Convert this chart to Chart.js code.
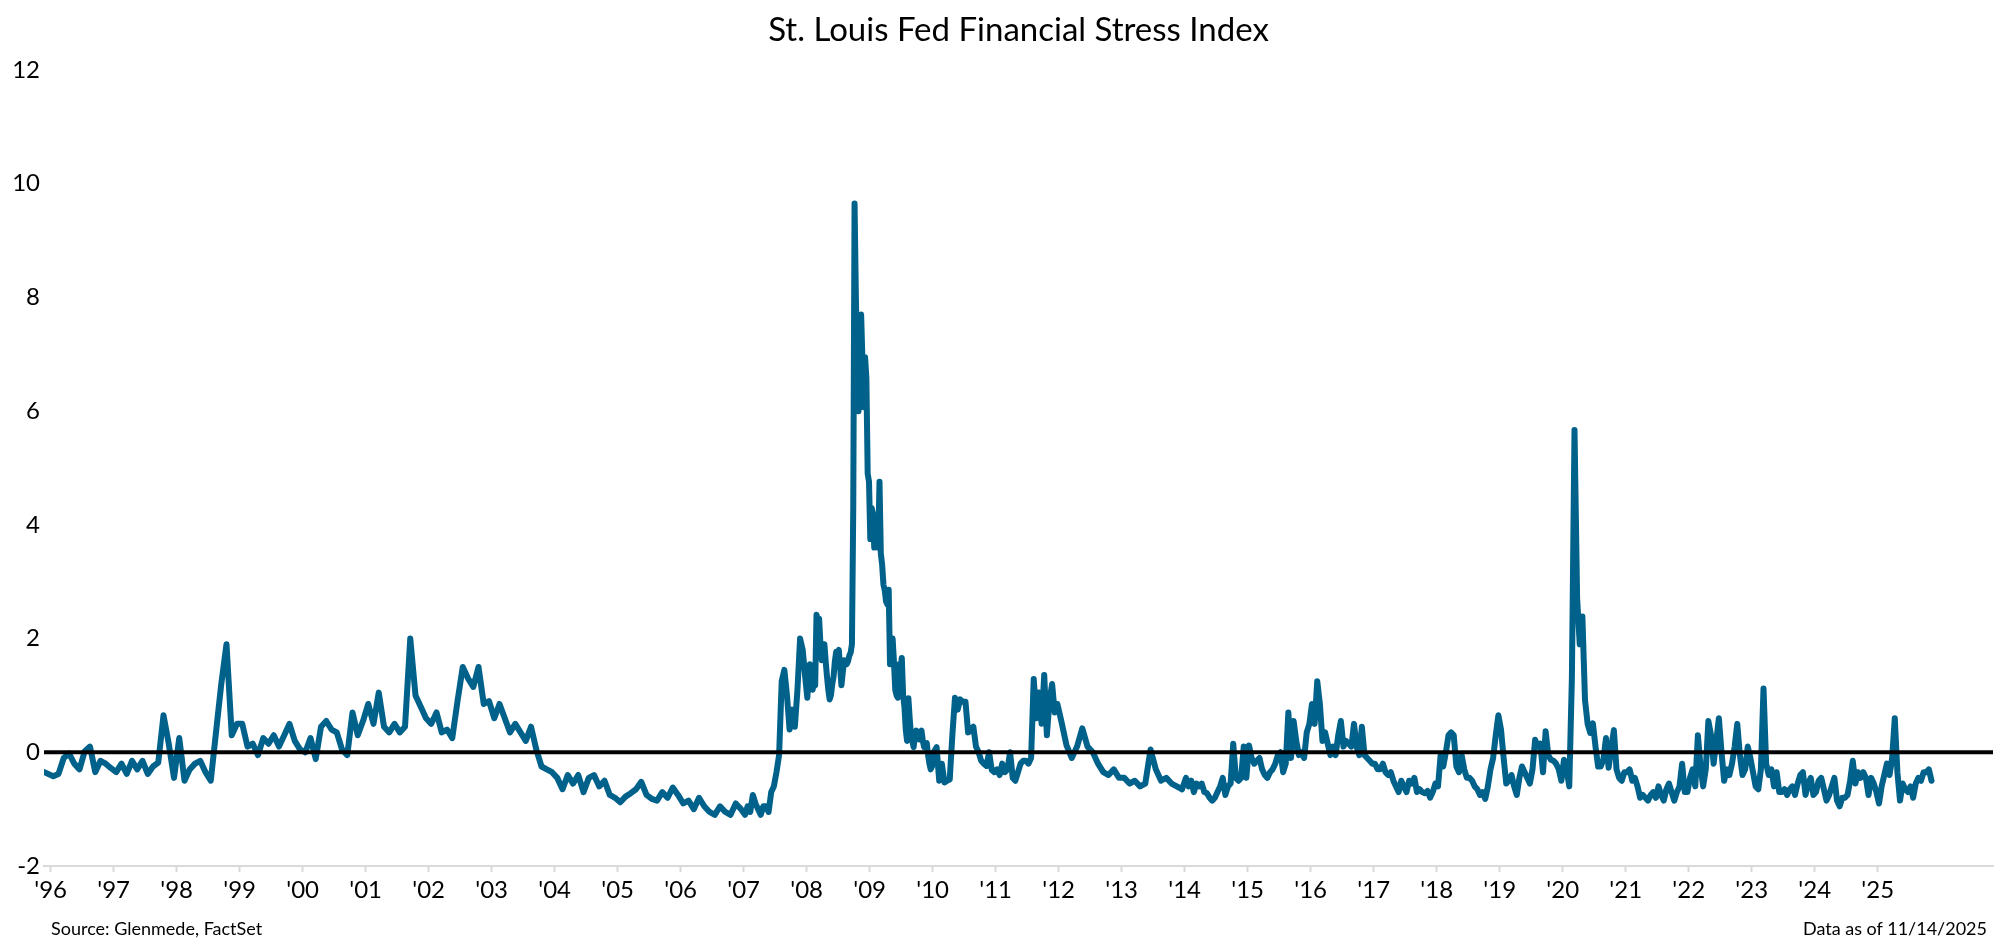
<!DOCTYPE html>
<html>
<head>
<meta charset="utf-8">
<title>St. Louis Fed Financial Stress Index</title>
<script src="https://cdn.jsdelivr.net/npm/chart.js@4.4.1/dist/chart.umd.min.js"></script>
<style>
  html, body { margin: 0; padding: 0; background: #fff; }
  #wrap { position: relative; width: 2000px; height: 949px; }
  #chart { position: absolute; left: 0; top: 0; }
  .note { position: absolute; font-family: Lato, sans-serif; font-size: 18px; line-height: 20px; color: #000; white-space: nowrap; }
  #source { left: 51px; top: 918px; }
  #asof { right: 13px; top: 918px; }
</style>
</head>
<body>
<div id="wrap">
  <canvas id="chart" width="2000" height="949"></canvas>
  <div class="note" id="source">Source: Glenmede, FactSet</div>
  <div class="note" id="asof">Data as of 11/14/2025</div>
</div>
<script>
// tick labels along the bottom ('96 ... '25)
const yearTicks = [1996, 1997, 1998, 1999, 2000, 2001, 2002, 2003, 2004, 2005,
                   2006, 2007, 2008, 2009, 2010, 2011, 2012, 2013, 2014, 2015,
                   2016, 2017, 2018, 2019, 2020, 2021, 2022, 2023, 2024, 2025];

// readings per year (monthly, half-monthly or weekly-ish around the crises)
const stepsPerYear = [12, 12, 12, 12, 12, 12, 12, 12, 12, 12,
                      12, 24, 48, 48, 24, 24, 12, 12, 24, 24,
                      24, 24, 24, 24, 24, 24, 24, 24, 24, 24];

// first reading, end of Dec 1995
const seriesStart = 1995.9;
const startValue = -0.35;

// index values, one array per year
const fsi1996 = [-0.42, -0.38, -0.1, -0.02, -0.2, -0.3, 0.02, 0.1, -0.35, -0.15, -0.2, -0.28];
const fsi1997 = [-0.35, -0.2, -0.38, -0.15, -0.3, -0.15, -0.38, -0.25, -0.18, 0.65, 0.15, -0.45];
const fsi1998 = [0.25, -0.5, -0.3, -0.2, -0.15, -0.35, -0.5, 0.35, 1.2, 1.9, 0.3, 0.5];
const fsi1999 = [0.5, 0.1, 0.15, -0.05, 0.25, 0.15, 0.3, 0.1, 0.3, 0.5, 0.2, 0.05];
const fsi2000 = [0.0, 0.25, -0.12, 0.45, 0.55, 0.4, 0.35, 0.05, -0.05, 0.7, 0.3, 0.55];
const fsi2001 = [0.85, 0.5, 1.05, 0.45, 0.35, 0.5, 0.35, 0.45, 2.0, 1.0, 0.8, 0.6];
const fsi2002 = [0.5, 0.7, 0.35, 0.4, 0.25, 0.9, 1.5, 1.3, 1.15, 1.5, 0.85, 0.9];
const fsi2003 = [0.6, 0.85, 0.6, 0.35, 0.5, 0.35, 0.2, 0.45, 0.05, -0.25, -0.3, -0.35];
const fsi2004 = [-0.45, -0.65, -0.4, -0.55, -0.4, -0.7, -0.45, -0.4, -0.6, -0.5, -0.75, -0.8];
const fsi2005 = [-0.88, -0.78, -0.72, -0.65, -0.52, -0.75, -0.82, -0.85, -0.7, -0.8, -0.62, -0.75];
const fsi2006 = [-0.9, -0.85, -1.0, -0.8, -0.95, -1.05, -1.1, -0.95, -1.05, -1.1, -0.9, -1.0];
const fsi2007 = [-1.1, -0.95, -1.05, -0.75, -0.9, -1.0, -1.1, -0.95, -0.95, -1.05, -0.7, -0.6,
                 -0.35, -0.05, 1.25, 1.45, 1.0, 0.4, 0.75, 0.45, 1.1, 2.0, 1.8, 1.3];
const fsi2008 = [0.96, 1.3, 1.55, 1.3, 1.1, 1.2, 1.18, 2.42, 2.3, 2.35, 1.9, 1.62,
                 1.75, 1.9, 1.6, 1.33, 1.1, 0.93, 1.0, 1.2, 1.33, 1.6, 1.77, 1.75,
                 1.8, 1.5, 1.18, 1.4, 1.62, 1.6, 1.55, 1.6, 1.7, 1.75, 1.9, 4.3,
                 9.65, 8.0, 6.95, 6.0, 7.5, 7.7, 6.9, 6.07, 6.95, 6.58, 4.9, 4.76];
const fsi2009 = [3.75, 4.3, 4.2, 3.6, 4.0, 4.15, 3.6, 4.76, 3.5, 3.3, 2.95, 2.85,
                 2.65, 2.6, 2.86, 1.55, 1.8, 2.0, 1.6, 1.1, 1.0, 0.96, 1.55, 1.45,
                 1.66, 1.0, 0.8, 0.4, 0.2, 0.95, 0.6, 0.31, 0.2, 0.09, 0.3, 0.38,
                 0.25, 0.23, 0.35, 0.38, 0.2, 0.09, 0.15, 0.16, -0.05, -0.2, -0.3, -0.25];
const fsi2010 = [0.01, 0.09, -0.5, -0.2, -0.53, -0.5, -0.48, 0.3, 0.96, 0.75, 0.93, 0.89,
                 0.89, 0.35, 0.38, 0.45, 0.1, 0.0, -0.15, -0.2, -0.24, 0.0, -0.31, -0.35];
const fsi2011 = [-0.3, -0.4, -0.2, -0.35, -0.3, 0.0, -0.45, -0.5, -0.35, -0.2, -0.15, -0.15,
                 -0.2, -0.1, 1.29, 0.6, 1.05, 0.5, 1.36, 0.3, 0.9, 1.2, 0.7, 0.85];
const fsi2012 = [0.55, 0.12, -0.1, 0.1, 0.42, 0.1, 0.0, -0.2, -0.35, -0.4, -0.3, -0.45];
const fsi2013 = [-0.45, -0.55, -0.5, -0.6, -0.55, 0.05, -0.3, -0.5, -0.45, -0.55, -0.6, -0.65];
const fsi2014 = [-0.45, -0.6, -0.5, -0.7, -0.55, -0.6, -0.55, -0.7, -0.72, -0.8, -0.85, -0.8,
                 -0.7, -0.6, -0.45, -0.75, -0.6, -0.55, 0.15, -0.45, -0.5, -0.45, 0.1, -0.45];
const fsi2015 = [0.12, -0.1, -0.2, -0.15, -0.1, -0.3, -0.4, -0.45, -0.35, -0.3, -0.2, -0.05,
                 0.0, -0.35, -0.2, 0.7, -0.1, 0.55, 0.2, -0.05, 0.0, -0.1, 0.35, 0.5];
const fsi2016 = [0.85, 0.5, 1.25, 0.85, 0.2, 0.35, 0.15, -0.05, 0.1, -0.05, 0.3, 0.55,
                 0.1, 0.2, 0.15, 0.1, 0.5, 0.1, -0.05, 0.45, -0.05, -0.1, -0.15, -0.2];
const fsi2017 = [-0.2, -0.3, -0.3, -0.2, -0.35, -0.4, -0.35, -0.5, -0.6, -0.7, -0.5, -0.6,
                 -0.7, -0.5, -0.55, -0.45, -0.7, -0.65, -0.7, -0.72, -0.68, -0.8, -0.7, -0.55];
const fsi2018 = [-0.6, -0.05, -0.25, 0.0, 0.3, 0.35, 0.3, -0.25, -0.35, -0.05, -0.3, -0.45,
                 -0.45, -0.5, -0.6, -0.65, -0.75, -0.7, -0.82, -0.6, -0.3, -0.1, 0.3, 0.65];
const fsi2019 = [0.4, -0.1, -0.55, -0.5, -0.4, -0.6, -0.75, -0.45, -0.25, -0.35, -0.45, -0.55,
                 -0.3, 0.22, 0.1, 0.15, -0.35, 0.37, -0.05, -0.13, -0.15, -0.2, -0.3, -0.5];
const fsi2020 = [-0.13, -0.3, -0.6, 1.3, 5.67, 2.7, 1.9, 2.39, 0.92, 0.5, 0.34, 0.51,
                 0.1, -0.25, -0.25, -0.13, 0.25, -0.27, 0.08, 0.39, -0.3, -0.45, -0.5, -0.35];
const fsi2021 = [-0.35, -0.3, -0.5, -0.45, -0.6, -0.8, -0.75, -0.8, -0.85, -0.75, -0.7, -0.8,
                 -0.6, -0.75, -0.85, -0.65, -0.55, -0.7, -0.85, -0.7, -0.6, -0.2, -0.7, -0.7];
const fsi2022 = [-0.45, -0.3, -0.6, 0.3, -0.25, -0.6, -0.3, 0.55, 0.3, -0.2, 0.2, 0.6,
                 0.0, -0.5, -0.3, -0.4, -0.2, 0.1, 0.5, -0.05, -0.4, -0.3, 0.1, -0.1];
const fsi2023 = [-0.35, -0.6, -0.65, -0.3, 1.12, -0.2, -0.4, -0.3, -0.6, -0.35, -0.7, -0.7,
                 -0.65, -0.75, -0.65, -0.6, -0.75, -0.55, -0.4, -0.35, -0.75, -0.55, -0.45, -0.75];
const fsi2024 = [-0.7, -0.5, -0.45, -0.65, -0.85, -0.75, -0.6, -0.45, -0.85, -0.95, -0.8, -0.8,
                 -0.75, -0.5, -0.15, -0.55, -0.35, -0.45, -0.35, -0.45, -0.75, -0.45, -0.55, -0.7];
// 2025 runs to 11/14
const fsi2025 = [-0.9, -0.6, -0.4, -0.2, -0.4, -0.1, 0.6, -0.35, -0.85, -0.55, -0.65, -0.7,
                 -0.6, -0.8, -0.55, -0.45, -0.5, -0.35, -0.35, -0.3, -0.5];

const yearlyValues = [fsi1996, fsi1997, fsi1998, fsi1999, fsi2000, fsi2001, fsi2002, fsi2003,
                      fsi2004, fsi2005, fsi2006, fsi2007, fsi2008, fsi2009, fsi2010, fsi2011,
                      fsi2012, fsi2013, fsi2014, fsi2015, fsi2016, fsi2017, fsi2018, fsi2019,
                      fsi2020, fsi2021, fsi2022, fsi2023, fsi2024, fsi2025];

// y axis ticks
const valueTicks = [-2, 0, 2, 4, 6, 8, 10, 12];

const lineColour = '#00618a';
const tickFont = { family: 'Lato', size: 24 };

function buildPoints() {
    let points = [{ x: seriesStart, y: startValue }];
    yearTicks.forEach((year, i) => {
        let steps = stepsPerYear[i];
        yearlyValues[i].forEach((value, k) => {
            points.push({ x: year + (k + 0.5) / steps, y: value });
        });
    });
    return points;
}

// black line at zero, drawn over the series
const zeroLine = {
    id: 'zeroLine',
    afterDatasetsDraw(chart) {
        let ctx = chart.ctx;
        let area = chart.chartArea;
        let y = chart.scales.y.getPixelForValue(0);
        ctx.save();
        ctx.strokeStyle = '#000';
        ctx.lineWidth = 4;
        ctx.beginPath();
        ctx.moveTo(area.left, y);
        ctx.lineTo(area.right, y);
        ctx.stroke();
        ctx.restore();
    }
};

window.addEventListener('load', function () {
    let ctx = document.getElementById('chart').getContext('2d');
    new Chart(ctx, {
        type: 'line',
        data: {
            datasets: [{
                label: 'St. Louis Fed Financial Stress Index',
                data: buildPoints(),
                borderColor: lineColour,
                backgroundColor: lineColour,
                borderWidth: 6,
                borderJoinStyle: 'round',
                borderCapStyle: 'round',
                pointRadius: 0,
                tension: 0
            }]
        },
        options: {
            responsive: false,
            devicePixelRatio: 1,
            animation: false,
            layout: { padding: { left: 0, right: 7, top: 0, bottom: 40 } },
            plugins: {
                legend: { display: false },
                tooltip: { enabled: false },
                title: {
                    display: true,
                    text: 'St. Louis Fed Financial Stress Index',
                    fullSize: false,
                    color: '#000',
                    font: { family: 'Lato', size: 33, weight: 'normal' },
                    padding: { top: 11, bottom: 19.4 }
                }
            },
            scales: {
                x: {
                    type: 'linear',
                    min: 1995.895,
                    max: 2026.83,
                    afterBuildTicks: (scale) => { scale.ticks = yearTicks.map(v => ({ value: v })); },
                    afterFit: (scale) => { scale.height = 43; },
                    grid: { drawOnChartArea: false, tickColor: '#d9d9d9', tickLength: 6, tickWidth: 2 },
                    border: { color: '#d9d9d9', width: 2 },
                    ticks: {
                        autoSkip: false,
                        maxRotation: 0,
                        padding: 4,
                        color: '#000',
                        font: tickFont,
                        callback: (v) => "'" + String(v).slice(2)
                    }
                },
                y: {
                    min: -2,
                    max: 12,
                    afterBuildTicks: (scale) => { scale.ticks = valueTicks.map(v => ({ value: v })); },
                    afterFit: (scale) => { scale.width = 44; },
                    grid: { display: false, drawTicks: false },
                    border: { display: false },
                    ticks: {
                        padding: 4,
                        color: '#000',
                        font: tickFont,
                        callback: (v) => String(v)
                    }
                }
            }
        },
        plugins: [zeroLine]
    });
});
</script>
</body>
</html>
